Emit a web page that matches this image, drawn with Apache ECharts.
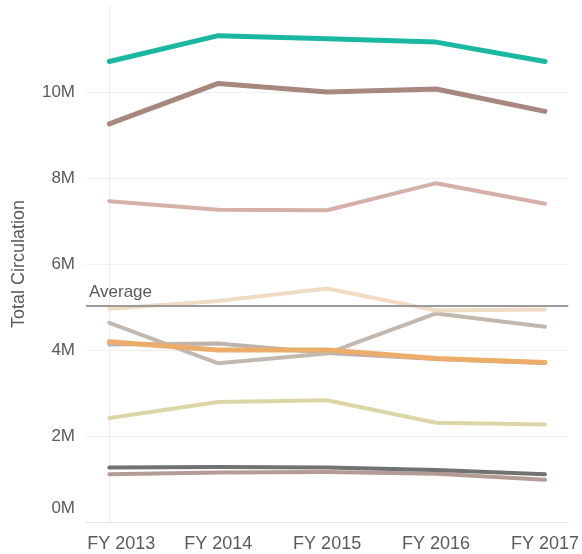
<!DOCTYPE html>
<html>
<head>
<meta charset="utf-8">
<script src="https://cdn.jsdelivr.net/npm/echarts@6/dist/echarts.min.js"></script>
<style>
  html, body { margin: 0; padding: 0; background: #fff; }
  #chart { width: 582px; height: 554px; }
</style>
</head>
<body>
<div id="chart"></div>
<script>
// Fiscal years along the x axis
const years = ['FY 2013', 'FY 2014', 'FY 2015', 'FY 2016', 'FY 2017'];

// Total circulation per branch, in millions
const seriesTeal     = [10.71, 11.31, 11.24, 11.16, 10.71];
const seriesMauve    = [9.26, 10.20, 10.00, 10.07, 9.55];
const seriesRose     = [7.46, 7.26, 7.25, 7.88, 7.40];
const seriesCream    = [4.96, 5.14, 5.43, 4.92, 4.94];
const seriesTaupe    = [4.63, 3.69, 3.92, 4.85, 4.54];
const seriesStone    = [4.13, 4.15, 3.93, 3.79, 3.70];
const seriesOrange   = [4.19, 4.00, 4.00, 3.80, 3.71];
const seriesOlive    = [2.42, 2.79, 2.83, 2.31, 2.27];
const seriesCharcoal = [1.27, 1.28, 1.27, 1.21, 1.11];
const seriesClay     = [1.11, 1.15, 1.16, 1.12, 0.98];

// Overall average across branches, in millions
const averageValue = 5.04;

// Value-axis tick labels
const yTicks = [0, 2, 4, 6, 8, 10];

const lines = [
  { name: 'Stone',    data: seriesStone,    color: '#bdb2ad', width: 4 },
  { name: 'Taupe',    data: seriesTaupe,    color: '#c3b8b0', width: 4 },
  { name: 'Cream',    data: seriesCream,    color: '#efdcc2', width: 4 },
  { name: 'Orange',   data: seriesOrange,   color: '#ebad69', width: 5 },
  { name: 'Olive',    data: seriesOlive,    color: '#dcd6a6', width: 4 },
  { name: 'Clay',     data: seriesClay,     color: '#b59b96', width: 4 },
  { name: 'Charcoal', data: seriesCharcoal, color: '#727272', width: 4 },
  { name: 'Rose',     data: seriesRose,     color: '#d6afa9', width: 4 },
  { name: 'Mauve',    data: seriesMauve,    color: '#a8877f', width: 5 },
  { name: 'Teal',     data: seriesTeal,     color: '#1bb8a1', width: 5 }
];

const textColor = '#5a5a5a';
const fontFamily = 'Liberation Sans, Arial, sans-serif';

const series = lines.map(function (s, idx) {
  return {
    name: s.name,
    type: 'line',
    data: s.data.map(function (v, i) { return [i, v]; }),
    symbol: 'none',
    lineStyle: { color: s.color, width: s.width, cap: 'round', join: 'round' },
    itemStyle: { color: s.color },
    z: 2 + idx
  };
});

// Reference line for the average
series.push({
  name: 'Average',
  type: 'line',
  data: [],
  z: 20,
  markLine: {
    silent: true,
    symbol: 'none',
    lineStyle: { color: '#9b9b9b', width: 2, type: 'solid' },
    label: {
      show: true,
      position: 'insideStartTop',
      formatter: 'Average',
      color: textColor,
      fontSize: 17,
      fontFamily: fontFamily,
      distance: [3, 4]
    },
    data: [{ yAxis: averageValue }]
  }
});

const chart = echarts.init(document.getElementById('chart'), null, { renderer: 'canvas' });
chart.setOption({
  animation: false,
  backgroundColor: '#ffffff',
  grid: { left: 86, right: 0, top: 6, bottom: 32, containLabel: false },
  xAxis: {
    type: 'value',
    min: -0.214,
    max: 4.214,
    splitLine: { show: false },
    axisTick: { show: false },
    axisLine: { show: true, lineStyle: { color: '#e6e6e6', width: 1 } },
    axisLabel: {
      customValues: years.map(function (_, i) { return i; }),
      formatter: function (v) {
        const i = Math.round(v);
        const txt = years[i] || '';
        // first label is nudged right so it stays clear of the value axis
        return i === 0 ? '{f|' + txt + '}' : txt;
      },
      color: textColor,
      fontSize: 18,
      fontFamily: fontFamily,
      margin: 13,
      rich: {
        f: { color: textColor, fontSize: 18, fontFamily: fontFamily, padding: [0, 0, 0, 24] }
      }
    }
  },
  yAxis: {
    type: 'value',
    min: 0,
    max: 12,
    interval: 2,
    name: 'Total Circulation',
    nameLocation: 'middle',
    nameGap: 58,
    nameRotate: 90,
    nameTextStyle: { color: textColor, fontSize: 18, fontFamily: fontFamily },
    axisLine: { show: true, lineStyle: { color: '#ececec', width: 1 } },
    axisTick: { show: false },
    splitLine: { show: true, showMaxLine: false, showMinLine: false, lineStyle: { color: '#efefef', width: 1 } },
    axisLabel: {
      showMaxLabel: false,
      color: textColor,
      fontSize: 17,
      fontFamily: fontFamily,
      margin: 11,
      formatter: function (v) {
        if (yTicks.indexOf(v) < 0) return '';
        return v === 0 ? '{z|' + v + 'M}' : v + 'M';
      },
      rich: {
        z: { color: textColor, fontSize: 17, fontFamily: fontFamily, padding: [0, 0, 28, 0] }
      }
    }
  },
  series: series
});
</script>
</body>
</html>
